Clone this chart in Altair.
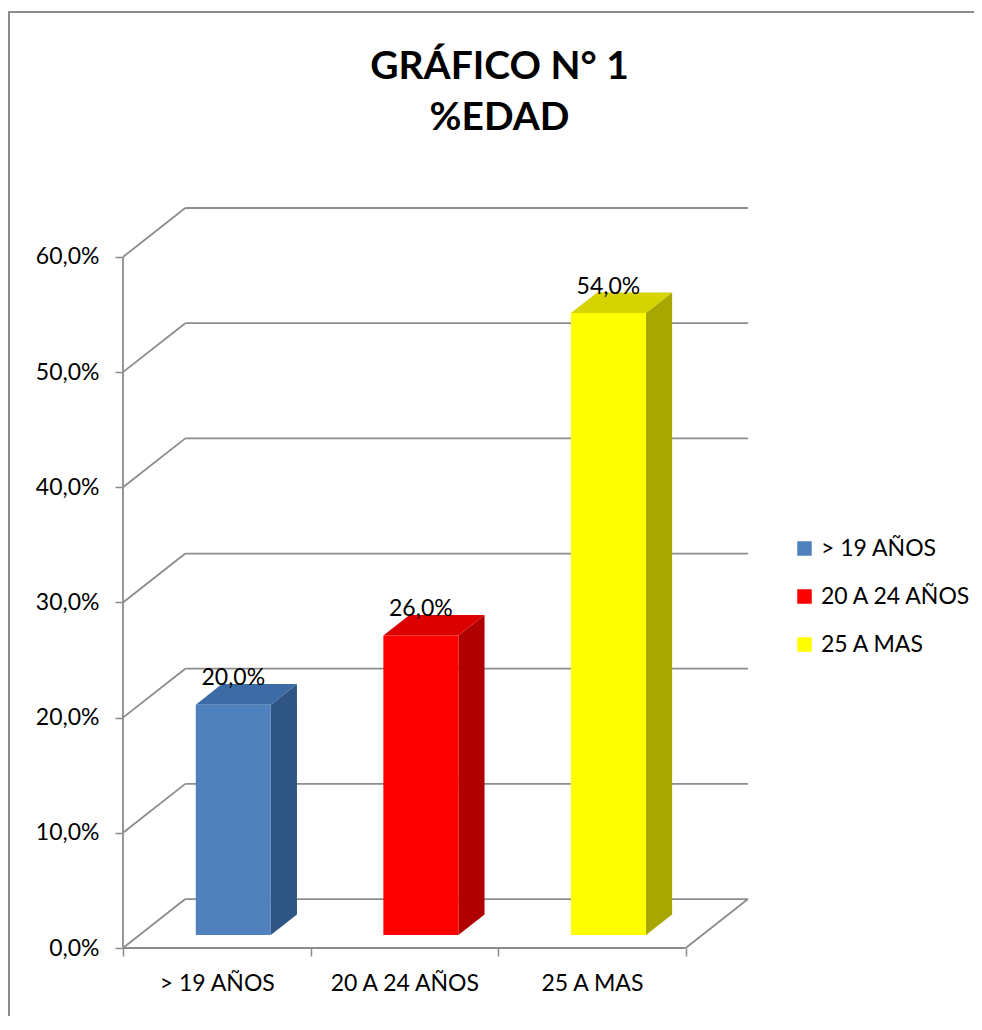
import altair as alt
import pandas as pd

# ---- data ----
categories = ["> 19 AÑOS", "20 A 24 AÑOS", "25 A MAS"]
values = [20.0, 26.0, 54.0]
y_ticks = [0, 10, 20, 30, 40, 50, 60]
title_lines = ["GRÁFICO N° 1", "%EDAD"]

# ---- style ----
front_colors = ["#4F81BD", "#FF0000", "#FFFF00"]
top_colors = ["#3D6BA5", "#DD0000", "#D6D400"]
side_colors = ["#2F5585", "#B00000", "#A8A600"]
GRAY = "#8C8C8C"
FONT = "Lato"
FS = 23

# 3-D projection constants (depth expressed in data units)
N = len(categories)
DX = 0.332   # depth along x, in category units
DY = 4.25    # depth along y, in percentage points
F0, F1 = 0.265, 0.685  # bar front / back depth fractions
HALF = 0.2   # half bar width, in category units

def fmt(v):
    return f"{v:.1f}".replace(".", ",") + "%"

# ---- tables built from the arrays ----
front = pd.DataFrame({
    "cat": categories,
    "x": [i + 0.5 - HALF + F0 * DX for i in range(N)],
    "x2": [i + 0.5 + HALF + F0 * DX for i in range(N)],
    "y": [F0 * DY] * N,
    "y2": [v + F0 * DY for v in values],
})

side_rows, top_rows = [], []
for i, (c, v) in enumerate(zip(categories, values)):
    for f in (F0, F1):
        side_rows.append({"cat": c, "x": i + 0.5 + HALF + f * DX,
                          "y": f * DY, "y2": v + f * DY, "color": side_colors[i]})
        top_rows.append({"cat": c, "y": v + f * DY,
                         "x": i + 0.5 - HALF + f * DX, "x2": i + 0.5 + HALF + f * DX,
                         "color": top_colors[i]})
side = pd.DataFrame(side_rows)
top = pd.DataFrame(top_rows)

labels = pd.DataFrame({
    "x": [i + 0.5 + F0 * DX for i in range(N)],
    "y": [v + F1 * DY for v in values],
    "text": [fmt(v) for v in values],
})

wall_rows = []
for t in y_ticks:
    wall_rows.append({"x": DX, "y": t + DY, "x2": N + DX, "y2": t + DY})
    wall_rows.append({"x": 0, "y": t, "x2": DX, "y2": t + DY})
wall_rows.append({"x": N, "y": 0, "x2": N + DX, "y2": DY})
wall_rows.append({"x": 0, "y": 0, "x2": 0, "y2": y_ticks[-1]})
wall_rows.append({"x": 0, "y": 0, "x2": N, "y2": 0})
walls = pd.DataFrame(wall_rows)

# ---- scales & axes ----
xscale = alt.Scale(domain=[0, N + DX], nice=False, zero=False)
yscale = alt.Scale(domain=[0, y_ticks[-1] + DY], nice=False, zero=False)

label_expr = " : ".join(
    f"datum.value == {i + 0.5} ? '{c}'" for i, c in enumerate(categories)
) + " : ''"

x_axis = alt.Axis(
    values=[k * 0.5 for k in range(2 * N + 1)],
    labelExpr=label_expr, title=None, grid=False, domain=False,
    tickSize=8, tickColor=GRAY, tickWidth=1.5,
    tickOpacity={"condition": {"test": "datum.value % 1 != 0", "value": 0}, "value": 1},
    labelFont=FONT, labelFontSize=FS, labelColor="black", labelPadding=16,
    labelOverlap=False, labelFlush=False,
)
y_axis = alt.Axis(
    values=y_ticks, title=None, grid=False, domain=False,
    labelExpr="replace(format(datum.value, '.1f'), '.', ',') + '%'",
    tickSize=8, tickColor=GRAY, tickWidth=1.5,
    labelFont=FONT, labelFontSize=FS, labelColor="black", labelPadding=16,
    labelOverlap=False, labelFlush=False,
)

def X(f):
    return alt.X(f, type="quantitative", scale=xscale, axis=x_axis)

def Y(f):
    return alt.Y(f, type="quantitative", scale=yscale, axis=y_axis)

# ---- layers ----
# chart frame: two thin filled strips (top and left edge of the outer box)
frame_df = pd.DataFrame({"k": [0]})
border_top = alt.Chart(frame_df).mark_rect(fill=GRAY, strokeWidth=0, clip=False).encode(
    x=alt.value(-115), x2=alt.value(900), y=alt.value(-197), y2=alt.value(-195)
)
border_left = alt.Chart(frame_df).mark_rect(fill=GRAY, strokeWidth=0, clip=False).encode(
    x=alt.value(-115), x2=alt.value(-113), y=alt.value(-197), y2=alt.value(900)
)

wall_layer = alt.Chart(walls).mark_rule(color=GRAY, strokeWidth=1.8).encode(
    x=X("x"), x2="x2", y=Y("y"), y2="y2"
)

side_layer = alt.Chart(side).mark_area(orient="vertical", opacity=1).encode(
    x=X("x"), y=Y("y"), y2="y2", detail="cat:N",
    color=alt.Color("color:N", scale=None),
)

top_layer = alt.Chart(top).mark_area(orient="horizontal", opacity=1).encode(
    y=Y("y"), x=X("x"), x2="x2", detail="cat:N",
    color=alt.Color("color:N", scale=None),
)

front_layer = alt.Chart(front).mark_rect(opacity=1).encode(
    x=X("x"), x2="x2", y=Y("y"), y2="y2",
    color=alt.Color(
        "cat:N",
        scale=alt.Scale(domain=categories, range=front_colors),
        legend=alt.Legend(
            title=None, orient="none", legendX=670, legendY=329,
            symbolType="square", symbolSize=210, symbolStrokeWidth=0,
            labelFont=FONT, labelFontSize=FS, labelColor="black",
            rowPadding=24, labelOffset=5, padding=0,
        ),
        sort=categories,
    ),
)

text_layer = alt.Chart(labels).mark_text(
    font=FONT, fontSize=FS, align="center", baseline="alphabetic", color="black", dy=1
).encode(x=X("x"), y=Y("y"), text="text:N")

chart = alt.layer(
    border_top, border_left, wall_layer, side_layer, top_layer, front_layer, text_layer
).properties(
    width=625, height=740,
    title=alt.Title(
        title_lines, font=FONT, fontSize=39, fontWeight="bold", color="black",
        anchor="middle", frame="group", dx=64, dy=131, lineHeight=51,
    ),
    autosize=alt.AutoSizeParams(type="none"),
    padding={"left": 115, "top": 200, "right": 226, "bottom": 68},
    background="white",
).configure_view(stroke=None)

chart.save("out.html", embed_options={"renderer": "svg", "actions": False})
